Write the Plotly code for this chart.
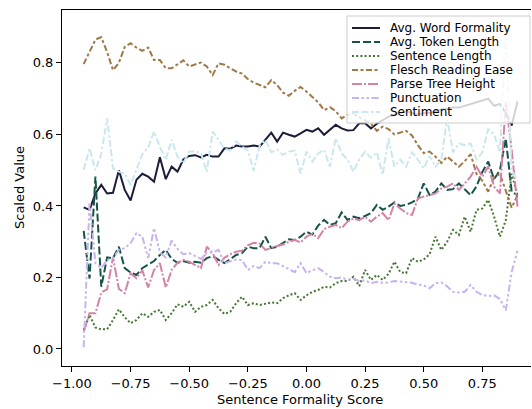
import plotly.graph_objects as go

# ---------------- data ----------------
x_scores = [
    -0.950, -0.925, -0.900, -0.875, -0.850, -0.825, -0.800, -0.775, -0.750, -0.725,
    -0.700, -0.675, -0.650, -0.625, -0.600, -0.575, -0.550, -0.525, -0.500, -0.475,
    -0.450, -0.425, -0.400, -0.375, -0.350, -0.325, -0.300, -0.275, -0.250, -0.225,
    -0.200, -0.175, -0.150, -0.125, -0.100, -0.075, -0.050, -0.025, 0.000, 0.025,
    0.050, 0.075, 0.100, 0.125, 0.150, 0.175, 0.200, 0.225, 0.250, 0.275,
    0.300, 0.325, 0.350, 0.375, 0.400, 0.425, 0.450, 0.475, 0.500, 0.525,
    0.550, 0.575, 0.600, 0.625, 0.650, 0.675, 0.700, 0.725, 0.750, 0.775,
    0.800, 0.825, 0.850, 0.875, 0.900,
]

avg_word_formality = [
    0.396, 0.389, 0.435, 0.459, 0.435, 0.437, 0.500, 0.445, 0.415, 0.473,
    0.490, 0.482, 0.468, 0.536, 0.475, 0.510, 0.496, 0.530, 0.540, 0.542,
    0.536, 0.543, 0.538, 0.538, 0.561, 0.560, 0.569, 0.566, 0.566, 0.569,
    0.566, 0.585, 0.605, 0.580, 0.605, 0.599, 0.594, 0.603, 0.613, 0.608,
    0.617, 0.599, 0.613, 0.627, 0.617, 0.611, 0.612, 0.631, 0.631, 0.617,
    0.630, 0.640, 0.650, 0.655, 0.660, 0.665, 0.660, 0.655, 0.660, 0.660,
    0.665, 0.670, 0.672, 0.675, 0.675, 0.680, 0.685, 0.690, 0.693, 0.700,
    0.680, 0.685, 0.660, 0.625, 0.692,
]

avg_token_length = [
    0.330, 0.197, 0.482, 0.174, 0.256, 0.254, 0.286, 0.226, 0.214, 0.207,
    0.226, 0.237, 0.246, 0.263, 0.277, 0.252, 0.241, 0.246, 0.241, 0.244,
    0.241, 0.254, 0.260, 0.249, 0.240, 0.251, 0.263, 0.268, 0.286, 0.282,
    0.282, 0.314, 0.282, 0.286, 0.296, 0.307, 0.305, 0.314, 0.328, 0.320,
    0.345, 0.361, 0.347, 0.352, 0.382, 0.361, 0.370, 0.366, 0.372, 0.380,
    0.403, 0.389, 0.398, 0.410, 0.400, 0.403, 0.410, 0.420, 0.463, 0.431,
    0.440, 0.463, 0.445, 0.447, 0.463, 0.445, 0.430, 0.455, 0.495, 0.524,
    0.475, 0.500, 0.589, 0.440, 0.430,
]

sentence_length = [
    0.053, 0.095, 0.060, 0.055, 0.055, 0.081, 0.111, 0.089, 0.072, 0.081,
    0.100, 0.090, 0.104, 0.109, 0.081, 0.100, 0.125, 0.118, 0.132, 0.104,
    0.118, 0.123, 0.137, 0.114, 0.098, 0.104, 0.128, 0.146, 0.123, 0.128,
    0.123, 0.126, 0.130, 0.128, 0.142, 0.150, 0.156, 0.137, 0.150, 0.160,
    0.165, 0.174, 0.172, 0.184, 0.190, 0.190, 0.202, 0.176, 0.221, 0.193,
    0.207, 0.193, 0.210, 0.244, 0.215, 0.212, 0.254, 0.244, 0.250, 0.265,
    0.314, 0.277, 0.300, 0.333, 0.319, 0.370, 0.328, 0.389, 0.393, 0.417,
    0.370, 0.314, 0.360, 0.490, 0.430,
]

flesch_reading_ease = [
    0.797, 0.830, 0.865, 0.872, 0.830, 0.780, 0.800, 0.845, 0.855, 0.843,
    0.834, 0.843, 0.808, 0.808, 0.785, 0.785, 0.795, 0.807, 0.790, 0.795,
    0.801, 0.790, 0.766, 0.799, 0.795, 0.785, 0.776, 0.770, 0.755, 0.745,
    0.738, 0.732, 0.752, 0.738, 0.717, 0.708, 0.722, 0.733, 0.720, 0.705,
    0.690, 0.668, 0.676, 0.665, 0.645, 0.655, 0.660, 0.648, 0.640, 0.630,
    0.610, 0.622, 0.615, 0.600, 0.605, 0.610, 0.597, 0.570, 0.548, 0.552,
    0.538, 0.520, 0.538, 0.525, 0.510, 0.525, 0.545, 0.490, 0.470, 0.440,
    0.480, 0.490, 0.440, 0.395, 0.430,
]

parse_tree_height = [
    0.048, 0.100, 0.100, 0.158, 0.167, 0.256, 0.168, 0.156, 0.212, 0.198,
    0.220, 0.172, 0.221, 0.240, 0.172, 0.221, 0.241, 0.249, 0.244, 0.235,
    0.226, 0.286, 0.268, 0.235, 0.255, 0.265, 0.272, 0.275, 0.290, 0.297,
    0.295, 0.277, 0.283, 0.288, 0.292, 0.300, 0.305, 0.298, 0.314, 0.322,
    0.310, 0.335, 0.342, 0.347, 0.338, 0.356, 0.365, 0.360, 0.370, 0.356,
    0.370, 0.380, 0.360, 0.407, 0.393, 0.380, 0.375, 0.421, 0.426, 0.431,
    0.435, 0.449, 0.454, 0.463, 0.445, 0.463, 0.482, 0.510, 0.482, 0.510,
    0.454, 0.435, 0.690, 0.557, 0.398,
]

punctuation = [
    0.005, 0.410, 0.240, 0.226, 0.249, 0.254, 0.277, 0.282, 0.296, 0.324,
    0.314, 0.254, 0.338, 0.270, 0.256, 0.303, 0.280, 0.265, 0.268, 0.260,
    0.252, 0.268, 0.270, 0.277, 0.240, 0.245, 0.250, 0.249, 0.221, 0.232,
    0.226, 0.244, 0.240, 0.240, 0.232, 0.225, 0.215, 0.240, 0.212, 0.220,
    0.226, 0.215, 0.202, 0.198, 0.200, 0.193, 0.196, 0.190, 0.192, 0.184,
    0.188, 0.185, 0.186, 0.190, 0.188, 0.186, 0.185, 0.180, 0.178, 0.170,
    0.184, 0.186, 0.175, 0.160, 0.158, 0.160, 0.179, 0.160, 0.151, 0.148,
    0.150, 0.140, 0.108, 0.215, 0.275,
]

sentiment = [
    0.501, 0.561, 0.500, 0.545, 0.645, 0.505, 0.496, 0.490, 0.459, 0.505,
    0.545, 0.563, 0.608, 0.565, 0.529, 0.585, 0.538, 0.520, 0.552, 0.553,
    0.548, 0.496, 0.608, 0.585, 0.560, 0.555, 0.580, 0.566, 0.555, 0.498,
    0.568, 0.585, 0.550, 0.557, 0.543, 0.552, 0.555, 0.491, 0.552, 0.524,
    0.547, 0.557, 0.510, 0.589, 0.547, 0.530, 0.496, 0.530, 0.552, 0.535,
    0.550, 0.487, 0.589, 0.510, 0.530, 0.510, 0.550, 0.530, 0.505, 0.540,
    0.510, 0.530, 0.645, 0.550, 0.575, 0.570, 0.575, 0.530, 0.550, 0.615,
    0.600, 0.550, 0.900, 0.500, 0.470,
]

series_names = [
    "Avg. Word Formality", "Avg. Token Length", "Sentence Length",
    "Flesch Reading Ease", "Parse Tree Height", "Punctuation", "Sentiment",
]
series_values = [
    avg_word_formality, avg_token_length, sentence_length,
    flesch_reading_ease, parse_tree_height, punctuation, sentiment,
]

x_tick_values = [-1.0, -0.75, -0.5, -0.25, 0.0, 0.25, 0.5, 0.75]
y_tick_values = [0.0, 0.2, 0.4, 0.6, 0.8]

# ---------------- styles ----------------
colors = ["#1b1e3b", "#165348", "#437731", "#a07949", "#d483a7", "#c7b3ed", "#cae7f0"]
dashes = [
    "solid",
    "8px,3px",
    "2px,2.2px",
    "6px,2.5px,3px,2.5px",
    "10px,2px,2px,2px",
    "7px,2.5px,2.5px,2.5px,2.5px,2.5px",
    "7px,2.5px,7px,2.5px,2.5px,2.5px",
]
FONT = "DejaVu Sans"

W, H = 532, 409
L, R, T, B = 62, 1, 10, 43
plot_w = W - L - R
plot_h = H - T - B

fig = go.Figure()
for name, vals, col, dash in zip(series_names, series_values, colors, dashes):
    fig.add_trace(go.Scatter(
        x=x_scores, y=vals, mode="lines", name=name,
        line=dict(color=col, width=2, dash=dash),
        showlegend=False,
    ))

def px_x(p):
    return (p - L) / plot_w

def px_y(p):
    return (H - B - p) / plot_h

# compact matplotlib-like legend
ROW0, ROWSTEP = 28.0, 14.0
shapes = [dict(
    type="rect", xref="paper", yref="paper", layer="above",
    x0=px_x(347), x1=px_x(530), y0=px_y(ROW0 + 6 * ROWSTEP + 11), y1=px_y(16),
    fillcolor="rgba(255,255,255,0.8)", line=dict(color="#cccccc", width=1),
)]
annotations = []
for k, (name, col, dash) in enumerate(zip(series_names, colors, dashes)):
    yc = px_y(ROW0 + ROWSTEP * k)
    shapes.append(dict(
        type="line", xref="paper", yref="paper", layer="above",
        x0=px_x(352), x1=px_x(380), y0=yc, y1=yc,
        line=dict(color=col, width=2, dash=dash),
    ))
    annotations.append(dict(
        text=name, xref="paper", yref="paper", x=px_x(389), y=yc,
        xanchor="left", yanchor="middle", showarrow=False, borderpad=0,
        font=dict(family=FONT, size=12, color="black"),
    ))

annotations.append(dict(
    text="Sentence Formality Score", xref="paper", yref="paper",
    x=px_x(300), y=px_y(399), xanchor="center", yanchor="middle",
    showarrow=False, font=dict(family=FONT, size=13, color="black"),
))
annotations.append(dict(
    text="Scaled Value", xref="paper", yref="paper",
    x=px_x(19), y=px_y(188), xanchor="center", yanchor="middle",
    textangle=-90, showarrow=False, font=dict(family=FONT, size=13, color="black"),
))

fig.update_layout(
    width=W, height=H,
    margin=dict(l=L, r=R, t=T, b=B, pad=0),
    paper_bgcolor="white", plot_bgcolor="white",
    showlegend=False,
    font=dict(family=FONT, size=13, color="black"),
    shapes=shapes, annotations=annotations,
    xaxis=dict(
        range=[-1.0425, 0.9575], tickvals=x_tick_values, tickformat=".2f",
        showgrid=False, zeroline=False, showline=True, linecolor="black",
        linewidth=1, mirror=True, ticks="outside", ticklen=5, tickwidth=1,
        tickcolor="black", tickfont=dict(family=FONT, size=13, color="black"),
    ),
    yaxis=dict(
        range=[-0.0476, 0.948], tickvals=y_tick_values, tickformat=".1f",
        showgrid=False, zeroline=False, showline=True, linecolor="black",
        linewidth=1, mirror=False, ticks="outside", ticklen=5, tickwidth=1,
        tickcolor="black", tickfont=dict(family=FONT, size=13, color="black"),
    ),
)

fig.write_html("out.html")
